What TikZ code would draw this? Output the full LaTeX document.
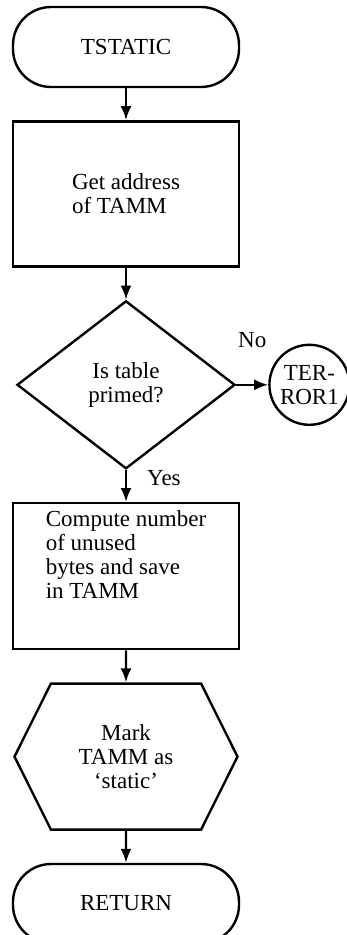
\documentclass[tikz,border=0pt]{standalone}
\usepackage{fontspec}
\setmainfont{Liberation Serif}
\usetikzlibrary{positioning,arrows.meta,shapes.geometric,shapes.symbols}
\tikzset{
  base/.style={draw=black, line width=1.2pt, font=\fontsize{11.5}{12}\selectfont, node distance=16pt},
  term/.style={base, rectangle, rounded corners=19pt, minimum width=113pt, minimum height=40pt},
  box/.style={base, rectangle, minimum width=113pt, minimum height=73pt, align=left},
  decision/.style={base, diamond, minimum width=109pt, minimum height=84pt, inner sep=0pt, align=center},
  offpage/.style={base, circle, minimum size=40pt, inner sep=0pt, align=center},
  prep/.style={base, signal, signal to=east and west, signal pointer angle=127, minimum width=111.5pt, minimum height=73pt, align=center},
  lbl/.style={font=\fontsize{11.5}{12}\selectfont, inner sep=1pt},
  connect/.style={-{Latex[length=7pt,width=5.5pt]}, line width=1.2pt}
}
\begin{document}
\begin{tikzpicture}
    \useasboundingbox (0pt,0pt) rectangle (173.5pt,-467.5pt);
    \node[term] (Start) at (63pt,-23.5pt) {TSTATIC};
    \node[box,minimum height=72.5pt] (Addr) [below=of Start] {Get address\\of TAMM};
    \node[decision] (Primed) [below=of Addr] {Is table\\primed?};
    \node[offpage] (Err) [right=of Primed] {TER-\\ROR1};
    \node[box,text depth=22pt] (Count) [below=of Primed] {Compute number\\of unused\\bytes and save\\in TAMM};
    \node[prep] (Mark) [below=of Count] {Mark\\TAMM as\\`static'};
    \node[term,minimum height=39.5pt] (Ret) [below=of Mark] {RETURN};

    \path (Start) edge [connect] (Addr)
          (Addr) edge [connect] (Primed)
          (Primed) edge [connect] node[lbl,above=17pt] (No) {No} (Err)
          (Primed) edge [connect] node[lbl,right=9pt,pos=0.25] (Yes) {Yes} (Count)
          (Count) edge [connect] (Mark)
          (Mark) edge [connect] (Ret);
\end{tikzpicture}
\end{document}
